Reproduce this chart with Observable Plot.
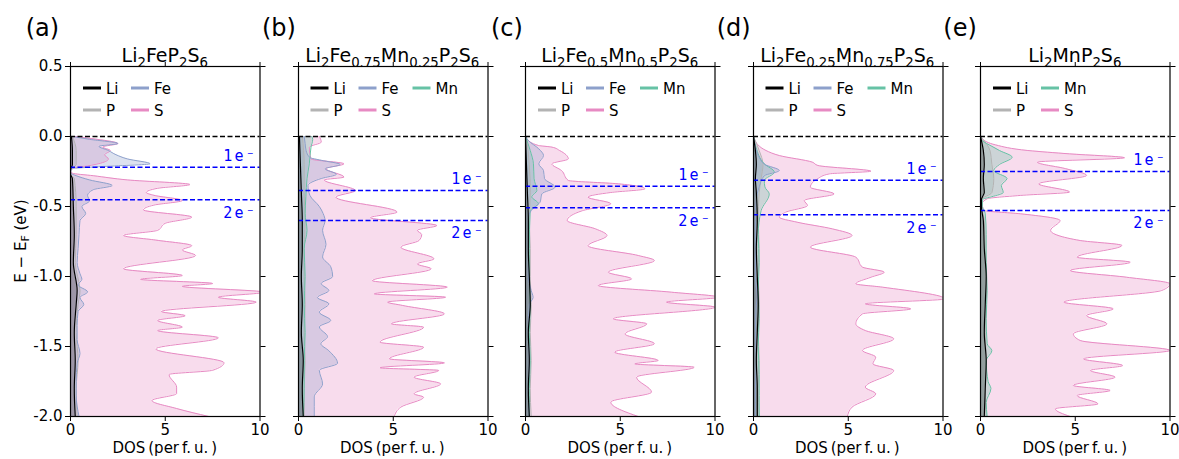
<!DOCTYPE html>
<html><head><meta charset="utf-8">
<script src="https://cdn.jsdelivr.net/npm/d3@7"></script>
<script src="https://cdn.jsdelivr.net/npm/@observablehq/plot@0.6"></script>
<style>
body{margin:0;background:#fff;}
#fig{position:relative;width:1179px;height:459px;overflow:hidden;font-family:"DejaVu Sans",sans-serif;}
#fig .panel{position:absolute;top:0;}
#fig g[font-family="DejaVu Sans Mono"] text{letter-spacing:2.2px;}
#overlay{position:absolute;left:0;top:0;pointer-events:none;}
</style></head><body><div id="fig"></div><script>
// ---------- labels ----------
const panelLabels = ["(a)", "(b)", "(c)", "(d)", "(e)"];
const titles = [
  "Li_{2}FeP_{2}S_{6}",
  "Li_{2}Fe_{0.75}Mn_{0.25}P_{2}S_{6}",
  "Li_{2}Fe_{0.5}Mn_{0.5}P_{2}S_{6}",
  "Li_{2}Fe_{0.25}Mn_{0.75}P_{2}S_{6}",
  "Li_{2}MnP_{2}S_{6}"
];
const xTicks = [0, 5, 10];
const yTicks = [-2.0, -1.5, -1.0, -0.5, 0.0, 0.5];
const xLabel = "DOS\u2009(per\u2009f.\u2009u.\u2009)";
const level1e = [-0.219, -0.386, -0.355, -0.312, -0.250];
const level2e = [-0.452, -0.600, -0.509, -0.559, -0.529];
const levelText = ["1e\u207B", "2e\u207B"];

// ---------- DOS curves: [E - E_F (eV), DOS] ----------
const S_a = [[0,0.2],[-0.02,1.4],[-0.05,2.5],[-0.075,1.7],[-0.1,2.1],[-0.13,1.8],[-0.16,2.0],[-0.19,1.6],[-0.21,0.9],[-0.225,0.15],[-0.245,0],[-0.262,0.1],[-0.28,1.2],[-0.31,3.0],[-0.343,6.3],[-0.37,4.6],[-0.40,4.0],[-0.42,4.4],[-0.457,5.9],[-0.49,4.4],[-0.524,3.85],[-0.576,6.4],[-0.62,5.0],[-0.67,4.6],[-0.707,2.8],[-0.74,4.5],[-0.78,6.4],[-0.81,5.9],[-0.85,6.6],[-0.945,2.8],[-0.993,5.9],[-1.02,3.7],[-1.05,7.5],[-1.07,5.9],[-1.112,10.2],[-1.148,7.8],[-1.183,9.8],[-1.25,4.8],[-1.28,6.05],[-1.314,4.6],[-1.362,5.9],[-1.386,4.6],[-1.438,7.8],[-1.517,4.5],[-1.616,8.1],[-1.67,7.5],[-1.70,5.2],[-1.79,5.6],[-1.836,5.6],[-1.886,4.3],[-1.943,5.6],[-2.0,7.3]];
const Fe_a = [[0,0.1],[-0.02,1.0],[-0.05,2.5],[-0.07,1.5],[-0.1,2.0],[-0.13,2.4],[-0.16,3.0],[-0.195,4.2],[-0.215,1.6],[-0.23,0.1],[-0.26,0],[-0.28,0.3],[-0.31,1.0],[-0.35,2.2],[-0.38,1.2],[-0.42,0.9],[-0.46,1.0],[-0.5,0.6],[-0.55,0.8],[-0.6,0.5],[-0.7,0.45],[-0.8,0.4],[-0.9,0.35],[-0.98,0.5],[-1.02,0.6],[-1.06,0.4],[-1.11,0.9],[-1.15,0.5],[-1.2,0.7],[-1.25,0.4],[-1.35,0.35],[-1.45,0.35],[-1.55,0.5],[-1.62,0.35],[-1.75,0.3],[-1.85,0.3],[-2.0,0.45]];
const Li_a = [[0,0.05],[-0.1,0.1],[-0.2,0.1],[-0.24,0],[-0.27,0],[-0.3,0.1],[-0.5,0.15],[-0.7,0.2],[-0.9,0.15],[-1.1,0.35],[-1.2,0.3],[-1.4,0.2],[-1.6,0.25],[-1.8,0.2],[-2.0,0.25]];
const P_a = [[0,0.1],[-0.1,0.3],[-0.2,0.3],[-0.24,0],[-0.27,0],[-0.3,0.2],[-0.5,0.3],[-0.7,0.3],[-0.9,0.25],[-1.1,0.5],[-1.2,0.4],[-1.4,0.3],[-1.6,0.4],[-1.8,0.3],[-2.0,0.35]];

const S_b = [[0,1.1],[-0.04,1.2],[-0.076,0.57],[-0.16,0.66],[-0.195,2.4],[-0.23,1.45],[-0.29,2.4],[-0.31,1.36],[-0.386,3.0],[-0.433,1.97],[-0.54,5.2],[-0.58,3.8],[-0.636,7.3],[-0.67,6.27],[-0.7,6.5],[-0.743,6.36],[-0.79,5.4],[-0.874,7.15],[-0.91,6.27],[-0.945,7.0],[-1.03,3.9],[-1.076,7.85],[-1.124,4.0],[-1.148,7.76],[-1.183,4.7],[-1.207,5.5],[-1.267,7.7],[-1.338,4.9],[-1.362,6.6],[-1.469,4.3],[-1.505,6.6],[-1.588,4.8],[-1.617,7.7],[-1.652,4.3],[-1.671,7.4],[-1.719,6.1],[-1.767,7.5],[-1.838,6.1],[-1.862,6.6],[-1.933,5.4],[-2.0,5.05]];
const Fe_b = [[0,0.3],[-0.05,0.35],[-0.1,0.4],[-0.15,0.6],[-0.17,1.2],[-0.2,2.2],[-0.23,1.4],[-0.27,2.0],[-0.3,1.2],[-0.35,0.5],[-0.42,0.6],[-0.5,1.1],[-0.55,1.3],[-0.6,1.4],[-0.67,1.27],[-0.77,1.45],[-0.86,1.27],[-0.93,1.7],[-1.0,1.8],[-1.05,1.2],[-1.1,1.6],[-1.15,1.0],[-1.195,1.6],[-1.255,1.1],[-1.314,1.7],[-1.36,1.1],[-1.43,1.53],[-1.48,1.18],[-1.53,1.6],[-1.62,2.06],[-1.67,1.1],[-1.767,1.27],[-1.86,0.83],[-2.0,0.83]];
const Mn_b = [[0,0.7],[-0.02,0.75],[-0.076,0.66],[-0.195,0.57],[-0.3,0.45],[-0.43,0.39],[-0.55,0.35],[-0.67,0.45],[-0.8,0.3],[-1.0,0.35],[-1.2,0.3],[-1.4,0.35],[-1.6,0.3],[-1.8,0.3],[-2.0,0.25]];
const Li_b = [[0,0.05],[-0.2,0.1],[-0.4,0.15],[-0.6,0.2],[-0.8,0.2],[-1.0,0.15],[-1.2,0.2],[-1.4,0.15],[-1.6,0.25],[-1.8,0.2],[-2.0,0.25]];
const P_b = [[0,0.2],[-0.2,0.3],[-0.4,0.3],[-0.6,0.35],[-0.8,0.3],[-1.0,0.3],[-1.2,0.35],[-1.4,0.3],[-1.6,0.35],[-1.8,0.3],[-2.0,0.3]];

const S_c = [[0,0.0],[-0.017,0.07],[-0.064,0.68],[-0.076,1.4],[-0.1,1.8],[-0.16,2.26],[-0.195,1.39],[-0.243,1.9],[-0.314,2.26],[-0.338,4.9],[-0.374,6.3],[-0.4,4.5],[-0.433,3.3],[-0.48,4.5],[-0.53,3.0],[-0.6,2.2],[-0.66,3.7],[-0.707,4.3],[-0.78,3.3],[-0.85,5.95],[-0.886,6.8],[-0.969,4.37],[-1.017,5.6],[-1.064,3.84],[-1.112,7.7],[-1.148,10.2],[-1.183,7.44],[-1.219,10.0],[-1.302,4.63],[-1.338,6.4],[-1.41,5.25],[-1.48,6.8],[-1.54,4.7],[-1.6,7.0],[-1.624,5.77],[-1.648,8.9],[-1.719,5.86],[-1.826,6.65],[-1.897,4.5],[-2.0,5.95]];
const Fe_c = [[0,0],[-0.03,0.16],[-0.088,0.7],[-0.136,0.95],[-0.195,0.7],[-0.243,0.95],[-0.3,1.0],[-0.362,1.56],[-0.41,0.86],[-0.469,0.77],[-0.51,0.42],[-0.576,0.16],[-0.8,0.15],[-1.0,0.15],[-1.1,0.3],[-1.15,0.4],[-1.2,0.2],[-1.4,0.15],[-1.6,0.2],[-1.8,0.15],[-2.0,0.2]];
const Mn_c = [[0,0],[-0.1,0.25],[-0.195,0.42],[-0.3,0.45],[-0.386,0.6],[-0.43,0.33],[-0.48,0.68],[-0.53,0.25],[-0.8,0.2],[-1.0,0.2],[-1.2,0.25],[-1.4,0.2],[-1.6,0.25],[-1.8,0.2],[-2.0,0.2]];
const Li_c = [[0,0],[-0.2,0.05],[-0.4,0.1],[-0.6,0.15],[-0.8,0.15],[-1.0,0.2],[-1.2,0.25],[-1.4,0.15],[-1.6,0.2],[-1.8,0.15],[-2.0,0.2]];
const P_c = [[0,0.05],[-0.2,0.2],[-0.4,0.25],[-0.6,0.2],[-0.8,0.25],[-1.0,0.25],[-1.2,0.3],[-1.4,0.25],[-1.6,0.3],[-1.8,0.25],[-2.0,0.3]];

const S_d = [[0,0],[-0.017,0.04],[-0.1,0.66],[-0.136,1.36],[-0.183,3.1],[-0.207,3.4],[-0.248,6.2],[-0.267,4.0],[-0.3,3.4],[-0.362,3.0],[-0.41,4.25],[-0.457,2.68],[-0.493,2.85],[-0.54,1.7],[-0.576,1.36],[-0.612,2.3],[-0.66,4.17],[-0.707,5.2],[-0.79,3.0],[-0.862,5.4],[-0.933,5.75],[-0.969,6.9],[-1.005,6.2],[-1.052,5.4],[-1.076,6.8],[-1.16,10.1],[-1.195,5.9],[-1.231,8.3],[-1.267,5.75],[-1.338,5.4],[-1.386,5.9],[-1.445,7.4],[-1.528,5.75],[-1.576,6.45],[-1.624,6.3],[-1.671,7.4],[-1.79,5.9],[-1.838,6.45],[-1.933,5.2],[-2.0,4.95]];
const Fe_d = [[0,0],[-0.076,0.1],[-0.148,0.3],[-0.2,0.6],[-0.243,1.36],[-0.28,0.57],[-0.36,0.3],[-0.45,0.15],[-0.6,0.1],[-0.8,0.1],[-1.0,0.1],[-1.15,0.2],[-1.2,0.15],[-1.4,0.1],[-1.6,0.15],[-1.8,0.1],[-2.0,0.1]];
const Mn_d = [[0,0],[-0.076,0.13],[-0.195,0.57],[-0.255,1.1],[-0.314,0.57],[-0.36,0.6],[-0.41,0.83],[-0.53,0.4],[-0.7,0.25],[-0.9,0.3],[-1.1,0.25],[-1.3,0.3],[-1.5,0.25],[-1.7,0.3],[-2.0,0.3]];
const Li_d = [[0,0],[-0.1,0.1],[-0.2,0.15],[-0.3,0.1],[-0.4,0.15],[-0.6,0.2],[-0.8,0.15],[-1.0,0.2],[-1.2,0.25],[-1.4,0.2],[-1.6,0.15],[-1.8,0.2],[-2.0,0.2]];
const P_d = [[0,0],[-0.1,0.3],[-0.2,0.5],[-0.3,0.4],[-0.4,0.3],[-0.6,0.25],[-0.8,0.3],[-1.0,0.25],[-1.2,0.3],[-1.4,0.25],[-1.6,0.3],[-1.8,0.25],[-2.0,0.3]];

const S_e = [[0,0],[-0.017,0.09],[-0.06,0.8],[-0.1,2.5],[-0.124,4.7],[-0.152,7.6],[-0.183,3.0],[-0.23,4.5],[-0.278,5.6],[-0.338,3.07],[-0.397,4.7],[-0.421,2.1],[-0.445,0.35],[-0.48,0.09],[-0.528,0.18],[-0.552,2.1],[-0.6,4.2],[-0.67,3.7],[-0.743,5.26],[-0.778,7.46],[-0.862,5.1],[-0.898,7.9],[-0.957,4.74],[-1.005,7.7],[-1.052,10.0],[-1.1,9.56],[-1.183,4.4],[-1.231,7.0],[-1.279,5.6],[-1.338,6.67],[-1.41,4.9],[-1.457,5.26],[-1.528,10.0],[-1.588,5.44],[-1.636,7.5],[-1.671,5.8],[-1.719,7.1],[-1.778,4.9],[-1.814,6.84],[-1.85,5.1],[-1.91,6.2],[-1.945,3.95],[-2.0,4.74]];
const Mn_e = [[0,0],[-0.03,0.1],[-0.07,0.6],[-0.1,1.0],[-0.148,1.67],[-0.2,1.0],[-0.243,0.7],[-0.3,1.4],[-0.35,1.1],[-0.4,1.2],[-0.43,0.6],[-0.45,0.1],[-0.5,0.1],[-0.55,0.25],[-0.7,0.3],[-0.9,0.3],[-1.1,0.35],[-1.3,0.3],[-1.48,0.35],[-1.53,0.6],[-1.6,0.3],[-1.75,0.4],[-1.8,0.55],[-1.9,0.3],[-2.0,0.35]];
const Li_e = [[0,0],[-0.1,0.15],[-0.2,0.2],[-0.3,0.15],[-0.4,0.2],[-0.45,0.05],[-0.5,0.05],[-0.6,0.15],[-0.8,0.2],[-1.0,0.3],[-1.2,0.25],[-1.4,0.2],[-1.6,0.3],[-1.8,0.25],[-2.0,0.2]];
const P_e = [[0,0],[-0.1,0.5],[-0.2,0.6],[-0.3,0.7],[-0.4,0.6],[-0.45,0.05],[-0.5,0.05],[-0.6,0.2],[-0.8,0.25],[-1.0,0.3],[-1.2,0.3],[-1.4,0.25],[-1.6,0.3],[-1.8,0.25],[-2.0,0.3]];

// ---------- structure ----------
const colors = {Li: "#000000", Fe: "#8da0cb", Mn: "#66c2a5", P: "#b3b3b3", S: "#e78ac3"};
const curves = [
  {Li: Li_a, Fe: Fe_a, P: P_a, S: S_a},
  {Li: Li_b, Fe: Fe_b, Mn: Mn_b, P: P_b, S: S_b},
  {Li: Li_c, Fe: Fe_c, Mn: Mn_c, P: P_c, S: S_c},
  {Li: Li_d, Fe: Fe_d, Mn: Mn_d, P: P_d, S: S_d},
  {Li: Li_e, Mn: Mn_e, P: P_e, S: S_e}
];
const legendCols = [
  [["Li","P"],["Fe","S"]],
  [["Li","P"],["Fe","S"],["Mn"]],
  [["Li","P"],["Fe","S"],["Mn"]],
  [["Li","P"],["Fe","S"],["Mn"]],
  [["Li","P"],["Mn","S"]]
];

// ---------- layout ----------
const panelLeft = [70, 297.5, 525, 752.5, 980];
const panelW = 189.5;
const plotTop = 66, plotBottom = 416, H = 459;
const labelLeft = [25.7, 262, 491, 716.7, 943.3];
const font = "DejaVu Sans";

const fig = document.getElementById("fig");
const sortE = arr => arr.slice().sort((p, q) => p[0] - q[0]);

curves.forEach((cv, i) => {
  const ml = i === 0 ? 50 : 28, mr = 12;
  const fillOrder = ["S", "P", "Mn", "Fe", "Li"].filter(n => cv[n]);
  const marks = [];
  for (const n of fillOrder) {
    marks.push(Plot.areaX(sortE(cv[n]), {y: d => d[0], x1: () => 0, x2: d => d[1], fill: colors[n], fillOpacity: n === "Li" ? 0.22 : 0.3, curve: "monotone-y", clip: true}));
  }
  for (const n of fillOrder) {
    marks.push(Plot.line(sortE(cv[n]), {x: d => d[1], y: d => d[0], stroke: colors[n], strokeWidth: n === "Li" ? 1.2 : 1, curve: "monotone-y", clip: true}));
  }
  marks.push(Plot.ruleY([0], {stroke: "black", strokeWidth: 1.3, strokeDasharray: "5,2.5"}));
  marks.push(Plot.ruleY([level1e[i], level2e[i]], {stroke: "#0000ff", strokeWidth: 1.5, strokeDasharray: "5,2.5"}));
  marks.push(Plot.text([level1e[i]], {y: d => d, frameAnchor: "right", text: () => levelText[0], textAnchor: "end", dx: -3, dy: -11, fill: "#0000ff", fontFamily: "DejaVu Sans Mono", fontSize: 15, lineAnchor: "middle"}));
  marks.push(Plot.text([level2e[i]], {y: d => d, frameAnchor: "right", text: () => levelText[1], textAnchor: "end", dx: -3, dy: 13, fill: "#0000ff", fontFamily: "DejaVu Sans Mono", fontSize: 15, lineAnchor: "middle"}));
  marks.push(Plot.frame({stroke: "black", strokeWidth: 1.2}));
  marks.push(Plot.axisX({anchor: "bottom", ticks: xTicks, tickFormat: d => String(d), tickSize: 5, tickPadding: 3, fontSize: 15, label: null}));
  marks.push(Plot.axisX({anchor: "top", ticks: xTicks, tickSize: 5, fill: "none", label: null}));
  if (i === 0) {
    marks.push(Plot.axisY({anchor: "left", ticks: yTicks, tickFormat: d => d.toFixed(1), tickSize: 5, tickPadding: 3, fontSize: 15, label: null}));
  } else {
    marks.push(Plot.axisY({anchor: "left", ticks: yTicks, tickSize: 5, fill: "none", label: null}));
  }
  marks.push(Plot.axisY({anchor: "right", ticks: yTicks, tickSize: 5, fill: "none", label: null}));

  const chart = Plot.plot({
    width: ml + panelW + mr,
    height: H,
    marginLeft: ml, marginRight: mr, marginTop: plotTop, marginBottom: H - plotBottom,
    x: {domain: [0, 10]},
    y: {domain: [-2, 0.5]},
    style: {fontFamily: font, fontSize: "15px", background: "transparent", overflow: "visible", color: "black"},
    marks
  });
  chart.classList.add("panel");
  chart.style.left = (panelLeft[i] - ml) + "px";
  fig.appendChild(chart);
});

// ---------- overlay text: panel labels, titles, legends, axis labels ----------
const ov = d3.select(fig).append("svg").attr("id", "overlay")
  .attr("width", 1179).attr("height", 459)
  .style("font-family", font);

panelLabels.forEach((t, i) => {
  ov.append("text").attr("x", labelLeft[i]).attr("y", 36).attr("font-size", 24).attr("fill", "black").text(t);
});

titles.forEach((t, i) => {
  const parts = t.split(/_\{([^}]*)\}/);
  const txt = ov.append("text").attr("x", panelLeft[i] + panelW / 2).attr("y", 62)
    .attr("text-anchor", "middle").attr("font-size", 19).attr("fill", "black");
  let shifted = false;
  parts.forEach((p, k) => {
    if (!p) return;
    const isSub = k % 2 === 1;
    const ts = txt.append("tspan").text(p);
    if (isSub) { ts.attr("font-size", 13.3).attr("dy", shifted ? 0 : 4.5); shifted = true; }
    else { ts.attr("dy", shifted ? -4.5 : 0); shifted = false; }
  });
});

const colX = [13, 61, 115], rowY = [88, 110];
legendCols.forEach((cols, i) => {
  const L = panelLeft[i];
  cols.forEach((col, c) => {
    col.forEach((name, r) => {
      ov.append("line").attr("x1", L + colX[c]).attr("x2", L + colX[c] + 18)
        .attr("y1", rowY[r]).attr("y2", rowY[r])
        .attr("stroke", colors[name]).attr("stroke-width", 3);
      ov.append("text").attr("x", L + colX[c] + 23).attr("y", rowY[r] + 5.5)
        .attr("font-size", 15).attr("fill", "black").text(name);
    });
  });
});

panelLeft.forEach(L => {
  ov.append("text").attr("x", L + panelW / 2).attr("y", 453).attr("text-anchor", "middle")
    .attr("font-size", 15).attr("fill", "black").text(xLabel);
});

const yl = ov.append("text").attr("transform", "translate(26,241) rotate(-90)")
  .attr("text-anchor", "middle").attr("font-size", 15).attr("fill", "black");
yl.append("tspan").text("E \u2212 E");
yl.append("tspan").attr("font-size", 11).attr("dy", 3).text("F");
yl.append("tspan").attr("dy", -3).text(" (eV)");
</script></body></html>
